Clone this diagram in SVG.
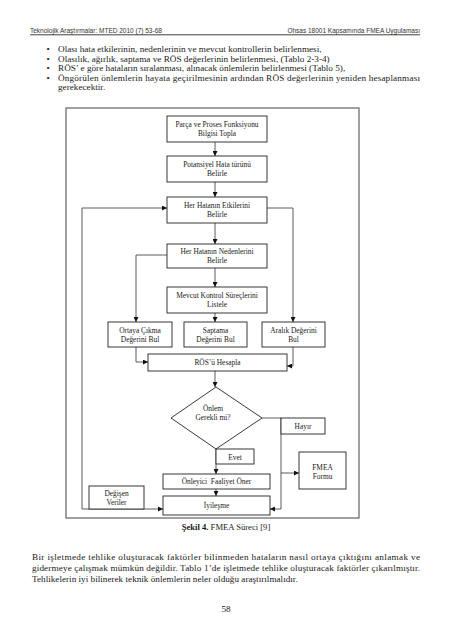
<svg xmlns="http://www.w3.org/2000/svg" width="453" height="640" viewBox="0 0 453 640">
<style>
text{font-family:"Liberation Serif","Times New Roman",serif;fill:#1a1a1a}
.hd{font-family:"Liberation Sans",Arial,sans-serif;font-size:6.5px;fill:#333}
.bd{font-size:9.2px}
.nt{font-size:7.4px;text-anchor:middle}
.box{fill:#fff;stroke:#222;stroke-width:0.9}
.frame{fill:none;stroke:#6e6e6e;stroke-width:1.3}
.ln{fill:none;stroke:#333;stroke-width:0.8}
.cap{font-size:8.6px;text-anchor:middle}
</style>
<defs>
<marker id="ah" viewBox="0 0 6 6" refX="6" refY="3" markerWidth="5" markerHeight="5" orient="auto" markerUnits="userSpaceOnUse">
<path d="M0,0 L6,3 L0,6 Z" fill="#111"/>
</marker>
</defs>
<rect width="453" height="640" fill="#fff"/>
<g id="page-header">
<text class="hd" x="30" y="32.5">Teknolojik Araştırmalar: MTED 2010 (7) 53-68</text>
<text class="hd" x="420" y="32.5" text-anchor="end">Ohsas 18001 Kapsamında FMEA Uygulaması</text>
<line x1="30" y1="34.8" x2="420" y2="34.8" stroke="#111" stroke-width="0.8"/>
</g>
<g id="bullets">
<text class="bd" x="46.5" y="52">•</text>
<text class="bd" x="58" y="52">Olası hata etkilerinin, nedenlerinin ve mevcut kontrollerin belirlenmesi,</text>
<text class="bd" x="46.5" y="61.5">•</text>
<text class="bd" x="58" y="61.5">Olasılık, ağırlık, saptama ve RÖS değerlerinin belirlenmesi, (Tablo 2-3-4)</text>
<text class="bd" x="46.5" y="71">•</text>
<text class="bd" x="58" y="71">RÖS’ e göre hataların sıralanması, alınacak önlemlerin belirlenmesi (Tablo 5),</text>
<text class="bd" x="46.5" y="80.5">•</text>
<text class="bd" x="58" y="80.5" textLength="362" lengthAdjust="spacing">Öngörülen önlemlerin hayata geçirilmesinin ardından RÖS değerlerinin yeniden hesaplanması</text>
<text class="bd" x="58" y="90">gerekecektir.</text>
</g>
<rect id="figure-frame" class="frame" x="66" y="108" width="293" height="410"/>
<g id="connectors">
<path class="ln" d="M215,142 L215,156" marker-end="url(#ah)"/>
<path class="ln" d="M215,182 L215,197" marker-end="url(#ah)"/>
<path class="ln" d="M215,223 L215,244" marker-end="url(#ah)"/>
<path class="ln" d="M215,268 L215,287" marker-end="url(#ah)"/>
<path class="ln" d="M215,313 L215,322" marker-end="url(#ah)"/>
<path class="ln" d="M267,208 L293,208 L293,322" marker-end="url(#ah)"/>
<path class="ln" d="M167,255 L136,255 L136,322" marker-end="url(#ah)"/>
<path class="ln" d="M136,347 L136,362 L148,362" marker-end="url(#ah)"/>
<path class="ln" d="M293,347 L293,366 L287,366" marker-end="url(#ah)"/>
<path class="ln" d="M215,371 L215,387" marker-end="url(#ah)"/>
<path class="ln" d="M216,449 L216,474" marker-end="url(#ah)"/>
<path class="ln" d="M216,489 L216,496" marker-end="url(#ah)"/>
<path class="ln" d="M262,418 L281,418 L281,509 L270,509" marker-end="url(#ah)"/>
<path class="ln" d="M281,473 L299,473" marker-end="url(#ah)"/>
<path class="ln" d="M82,509 L82,208 L167,208" marker-end="url(#ah)"/>
<path class="ln" d="M82,509 L163,509" marker-end="url(#ah)"/>
</g>
<g id="n1"><rect class="box" x="167" y="116" width="100" height="26"/><text class="nt" x="217" y="127">Parça ve Proses Fonksiyonu</text><text class="nt" x="217" y="136">Bilgisi Topla</text></g>
<g id="n2"><rect class="box" x="167" y="156" width="100" height="26"/><text class="nt" x="217" y="167">Potansiyel Hata türünü</text><text class="nt" x="217" y="176">Belirle</text></g>
<g id="n3"><rect class="box" x="167" y="197" width="100" height="26"/><text class="nt" x="217" y="208">Her Hatanın Etkilerini</text><text class="nt" x="217" y="217">Belirle</text></g>
<g id="n4"><rect class="box" x="167" y="244" width="100" height="24"/><text class="nt" x="217" y="254">Her Hatanın Nedenlerini</text><text class="nt" x="217" y="263">Belirle</text></g>
<g id="n5"><rect class="box" x="167" y="287" width="100" height="26"/><text class="nt" x="217" y="298">Mevcut Kontrol Süreçlerini</text><text class="nt" x="217" y="307">Listele</text></g>
<g id="n6"><rect class="box" x="108" y="322" width="64" height="25"/><text class="nt" x="140" y="332.5">Ortaya Çıkma</text><text class="nt" x="140" y="341.5">Değerini Bul</text></g>
<g id="n7"><rect class="box" x="184" y="322" width="63" height="25"/><text class="nt" x="215.5" y="332.5">Saptama</text><text class="nt" x="215.5" y="341.5">Değerini Bul</text></g>
<g id="n8"><rect class="box" x="262" y="322" width="63" height="25"/><text class="nt" x="293.5" y="332.5">Aralık Değerini</text><text class="nt" x="293.5" y="341.5">Bul</text></g>
<g id="n9"><rect class="box" x="148" y="354" width="139" height="17"/><text class="nt" x="217.5" y="365">RÖS’ü Hesapla</text></g>
<g id="n10"><polygon class="box" points="216,387 262,418 216,449 171,418"/><text class="nt" x="213" y="410.5">Önlem</text><text class="nt" x="213" y="419.5">Gerekli mi?</text></g>
<g id="n11"><rect class="box" x="281" y="418" width="44" height="16"/><text class="nt" x="303" y="429">Hayır</text></g>
<g id="n12"><rect class="box" x="216" y="449" width="38" height="15"/><text class="nt" x="235" y="459.5">Evet</text></g>
<g id="n13"><rect class="box" x="299" y="452" width="47" height="37"/><text class="nt" x="322.5" y="470">FMEA</text><text class="nt" x="322.5" y="479">Formu</text></g>
<g id="n14"><rect class="box" x="163" y="474" width="107" height="15"/><text class="nt" x="216.5" y="484" xml:space="preserve">Önleyici  Faaliyet Öner</text></g>
<g id="n15"><rect class="box" x="163" y="496" width="107" height="19"/><text class="nt" x="216.5" y="508">İyileşme</text></g>
<g id="n16"><rect class="box" x="89" y="486" width="55" height="23"/><text class="nt" x="116.5" y="495.5">Değişen</text><text class="nt" x="116.5" y="504.5">Veriler</text></g>
<text id="caption" class="cap" x="226" y="530"><tspan font-weight="bold">Şekil 4.</tspan> FMEA Süreci [9]</text>
<g id="paragraph">
<text class="bd" x="32" y="560" textLength="388" lengthAdjust="spacing">Bir işletmede tehlike oluşturacak faktörler bilinmeden hataların nasıl ortaya çıktığını anlamak ve</text>
<text class="bd" x="32" y="571" textLength="388" lengthAdjust="spacing">gidermeye çalışmak mümkün değildir. Tablo 1’de işletmede tehlike oluşturacak faktörler çıkarılmıştır.</text>
<text class="bd" x="32" y="582">Tehlikelerin iyi bilinerek teknik önlemlerin neler olduğu araştırılmalıdır.</text>
</g>
<text id="page-number" class="bd" x="226" y="612" text-anchor="middle">58</text>
</svg>
